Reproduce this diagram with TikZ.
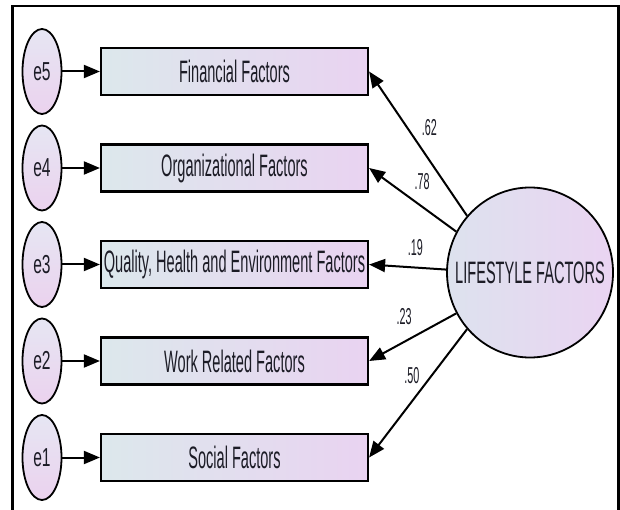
\documentclass[tikz,border=0pt]{standalone}
\usepackage{fontspec}
\setmainfont{Liberation Sans}
\newfontfamily\narrowfont[FakeStretch=0.47]{Liberation Sans}
\newfontfamily\errfont[FakeStretch=0.6]{Liberation Sans}
\usepackage{tikz}
\usetikzlibrary{shapes.geometric, arrows.meta}
\definecolor{boxleft}{HTML}{DCE8EC}
\definecolor{boxright}{HTML}{E9D3F1}
\definecolor{errtop}{HTML}{E6E6F3}
\definecolor{errbottom}{HTML}{EBD2EE}
\definecolor{latleft}{HTML}{DDE2EE}
\definecolor{latright}{HTML}{EAD4F2}
\definecolor{inkgrey}{HTML}{1C1C26}
\tikzstyle{arrow} = [line width=2pt,-{Triangle[length=16pt,width=13pt]}]
\tikzstyle{factorbox} = [rectangle, draw=black, line width=2.2pt, minimum width=267pt, minimum height=47pt, inner sep=0pt, left color=boxleft, right color=boxright, text=inkgrey, font={\narrowfont\fontsize{31}{32}\selectfont}]
\tikzstyle{errnode} = [ellipse, draw=black, line width=1.8pt, minimum width=39pt, minimum height=85pt, inner sep=0pt, top color=errtop, bottom color=errbottom, text=inkgrey, font={\errfont\fontsize{26}{27}\selectfont}]
\tikzstyle{latent} = [ellipse, draw=black, line width=1.8pt, minimum width=166pt, minimum height=170pt, inner sep=0pt, left color=latleft, right color=latright, text=inkgrey, font={\narrowfont\fontsize{31}{32}\selectfont}]
\tikzstyle{coef} = [text=inkgrey, font={\narrowfont\fontsize{23}{24}\selectfont}]

\begin{document}
\begin{tikzpicture}[x=1pt, y=1pt, node distance=96.5pt]
\useasboundingbox (0,0) rectangle (620,-510);
\draw [line width=2.5pt] (12.5,-514) -- (12.5,-6) -- (618.5,-6) -- (618.5,-514);
\node (fin) [factorbox] at (234.5,-71.5) {Financial Factors};
\node (org) [factorbox, below of = fin] {Organizational Factors};
\node (qual) [factorbox, below of = org] {Quality, Health and Environment Factors};
\node (work) [factorbox, below of = qual] {Work Related Factors};
\node (soc) [factorbox, below of = work] {Social Factors};
\node (e5) [errnode, left of = fin, xshift=-96pt] {e5};
\node (e4) [errnode, left of = org, xshift=-96pt] {e4};
\node (e3) [errnode, left of = qual, xshift=-96pt] {e3};
\node (e2) [errnode, left of = work, xshift=-96pt] {e2};
\node (e1) [errnode, left of = soc, xshift=-96pt] {e1};
\node (lf) [latent, right of = qual, xshift=199pt, yshift=-8pt] {\makebox[0pt]{LIFESTYLE FACTORS}};
\draw [arrow] (e5) -- (fin);
\draw [arrow] (e4) -- (org);
\draw [arrow] (e3) -- (qual);
\draw [arrow] (e2) -- (work);
\draw [arrow] (e1) -- (soc);
\draw [arrow] (lf.138) -- node[coef, pos=0.61, xshift=22pt] {.62} (fin.east);
\draw [arrow] (lf.151) -- node[coef, pos=0.5, xshift=9.5pt, yshift=18.5pt] {.78} (org.east);
\draw [arrow] (lf.178) -- node[coef, pos=0.4, yshift=20pt] {.19} (qual.east);
\draw [arrow] (lf.209) -- node[coef, pos=0.5, xshift=-8.5pt, yshift=20.5pt] {.23} (work.east);
\draw [arrow] (lf.222) -- node[coef, pos=0.36, xshift=-20pt] {.50} (soc.east);
\end{tikzpicture}
\end{document}
